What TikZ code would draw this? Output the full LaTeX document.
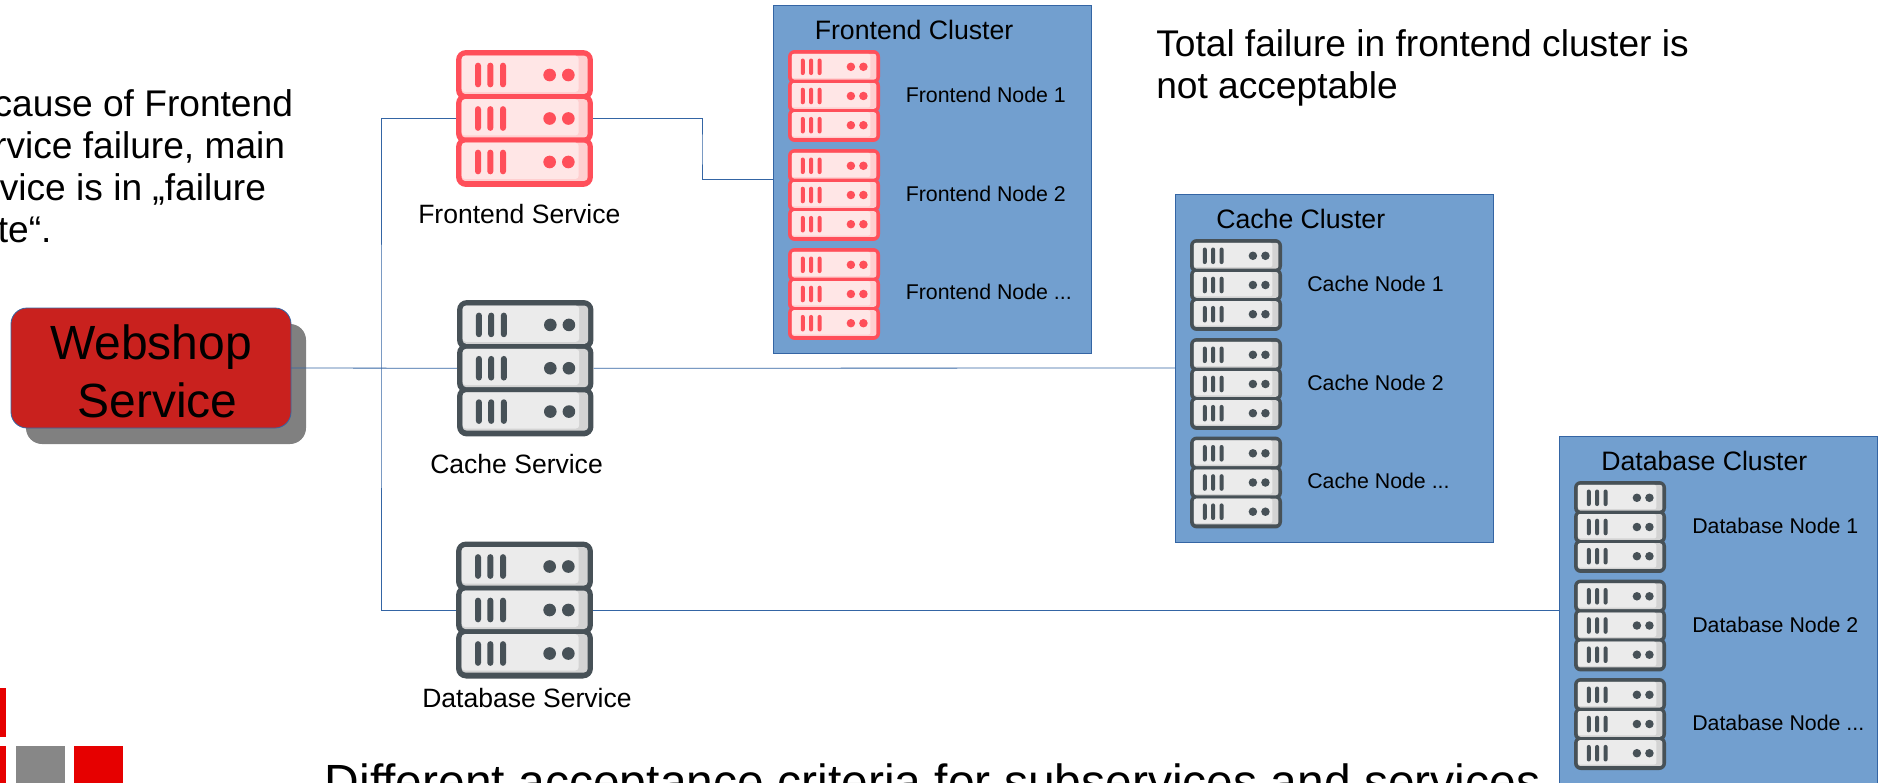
\documentclass[tikz,border=0pt]{standalone}
\usepackage{fontspec}
\setmainfont{Liberation Sans}
\definecolor{mainR}{HTML}{FF4F5A}
\definecolor{liteR}{HTML}{FFE6E6}
\definecolor{shadeR}{HTML}{FFCFD0}
\definecolor{mainG}{HTML}{475157}
\definecolor{liteG}{HTML}{EBEBEB}
\definecolor{shadeG}{HTML}{D3D3D3}
\definecolor{clusterblue}{HTML}{729FCF}
\definecolor{edgeblue}{HTML}{3465A4}
\definecolor{shopred}{HTML}{C9211E}
\definecolor{shopshadow}{HTML}{808080}
\definecolor{logored}{HTML}{E60000}
\definecolor{logogray}{HTML}{878787}
\tikzset{
  link/.style={draw=edgeblue,line width=0.6pt},
  anchornode/.style={inner sep=0pt,outer sep=0pt,rectangle},
  cluster/.style={rectangle,fill=clusterblue,draw=edgeblue,line width=0.6pt,inner sep=0pt,outer sep=0pt,minimum width=238.5pt,minimum height=261pt},
  clustertitle/.style={anchor=base west,inner sep=0pt,font=\fontsize{20pt}{24pt}\selectfont},
  servicelabel/.style={anchor=base west,inner sep=0pt,font=\fontsize{19.9pt}{24pt}\selectfont},
  nodelabel/.style={anchor=base west,inner sep=0pt,font=\fontsize{16pt}{19pt}\selectfont},
  bigtext/.style={anchor=base west,inner sep=0pt,align=left,font=\fontsize{27.85pt}{31.5pt}\selectfont},
}
% name, left, top, size (px), colour suffix
\newcommand{\serverpic}[5]{%
  \pgfmathsetlengthmacro\srvu{#4/411*0.75pt}%
  \node[anchornode,minimum size={#4*0.75pt}] (#1) at ({#2+#4/2},{#3+#4/2}) {};
  \begin{scope}[shift={(#2,#3)},x=\srvu,y=-\srvu]
    \foreach \ro in {0,130.5,261}{
      \fill[main#5,rounded corners=30*\srvu] (0,\ro) rectangle (411,\ro+150);
    }
    \foreach \ro in {0,130.5,261}{
      \fill[shade#5,rounded corners=11*\srvu] (17,\ro+17) rectangle (395,\ro+132);
      \fill[lite#5,rounded corners=10*\srvu] (17,\ro+17) rectangle (368,\ro+126);
      \foreach \bx in {57,94,132}{
        \fill[main#5,rounded corners=8.9*\srvu] (\bx,\ro+38) rectangle (\bx+18,\ro+112);
      }
      \fill[main#5] (281,\ro+75) circle[radius=19];
      \fill[main#5] (337,\ro+75) circle[radius=19];
    }
  \end{scope}
}
\begin{document}
\begin{tikzpicture}[x=0.75pt,y=-0.75pt]
\useasboundingbox (0,0) rectangle (1884,782);
\fill[white] (0,0) rectangle (1884,782);

% logo
\fill[logored] (-10,688) rectangle (6,737);
\fill[logored] (-10,746) rectangle (6,790);
\fill[logogray] (16,746) rectangle (65,790);
\fill[logored] (74,746) rectangle (123,790);

% clusters
\node[cluster] (fec) at (932,179) {};
\node[cluster] (cac) at (1334,368) {};
\node[cluster] (dbc) at (1718,610) {};

% webshop
\node[anchornode,minimum width=210pt,minimum height=90pt,fill=shopshadow,rounded corners=12pt] (webshadow) at (166,384) {};
\node[anchornode,minimum width=210pt,minimum height=90pt,fill=shopred,draw=edgeblue,line width=0.6pt,rounded corners=12pt] (web) at (151,368) {};
\node[inner sep=0pt,align=center,font=\fontsize{36pt}{43.5pt}\selectfont] (webtext) at (151,371) {Webshop\\\hspace*{9.6pt}Service};

% services
\serverpic{fes}{456}{50}{137}{R}
\serverpic{ces}{457}{300}{136.5}{G}
\serverpic{dbs}{456}{541.5}{137}{G}

% frontend nodes
\serverpic{fe1}{788}{50}{92}{R}
\serverpic{fe2}{788}{149}{92}{R}
\serverpic{fe3}{788}{248}{92}{R}
% cache nodes
\serverpic{ca1}{1190}{239}{92}{G}
\serverpic{ca2}{1190}{338}{92}{G}
\serverpic{ca3}{1190}{436.5}{92}{G}
% database nodes
\serverpic{db1}{1574}{481}{92}{G}
\serverpic{db2}{1574}{579.5}{92}{G}
\serverpic{db3}{1574}{678}{92}{G}

% connectors
\coordinate (trunk) at (381,368);
\coordinate (elbow) at (702,150);
\draw[link] (fes.west) -| (trunk) |- (dbs.west);
\draw[link] (web.east) -- (ces.west);
\draw[link] (fes.east) -| (elbow) |- (fec.west);
\draw[link] (ces.east) -- (cac.west);
\draw[link] (dbs.east) -- (dbc.west);

% labels
\node[servicelabel] (lfes) at (418,223) {Frontend Service};
\node[servicelabel] (lces) at (430,473) {Cache Service};
\node[servicelabel] (ldbs) at (422,707) {Database Service};

\node[clustertitle] (tfec) at (814.5,39) {Frontend Cluster};
\node[clustertitle] (tcac) at (1216,228) {Cache Cluster};
\node[clustertitle] (tdbc) at (1601,470) {Database Cluster};

\node[nodelabel] (lfe1) at (905.5,102) {Frontend Node 1};
\node[nodelabel] (lfe2) at (905.5,201) {Frontend Node 2};
\node[nodelabel] (lfe3) at (905.5,299) {Frontend Node ...};
\node[nodelabel] (lca1) at (1307,291) {Cache Node 1};
\node[nodelabel] (lca2) at (1307,390) {Cache Node 2};
\node[nodelabel] (lca3) at (1307,488) {Cache Node ...};
\node[nodelabel] (ldb1) at (1692,533) {Database Node 1};
\node[nodelabel] (ldb2) at (1692,632) {Database Node 2};
\node[nodelabel] (ldb3) at (1692,730) {Database Node ...};

% notes
\node[bigtext] (because) at (-52,242.7) {Because of Frontend\\\hspace*{5pt}service failure, main\\service is in „failure\\state“.};
\node[bigtext] (total) at (1156,98) {Total failure in frontend cluster is\\not acceptable};
\node[anchor=base west,inner sep=0pt,font=\fontsize{36pt}{42pt}\selectfont] (crit) at (324.5,798) {Different acceptance criteria for subservices and services};
\end{tikzpicture}
\end{document}
